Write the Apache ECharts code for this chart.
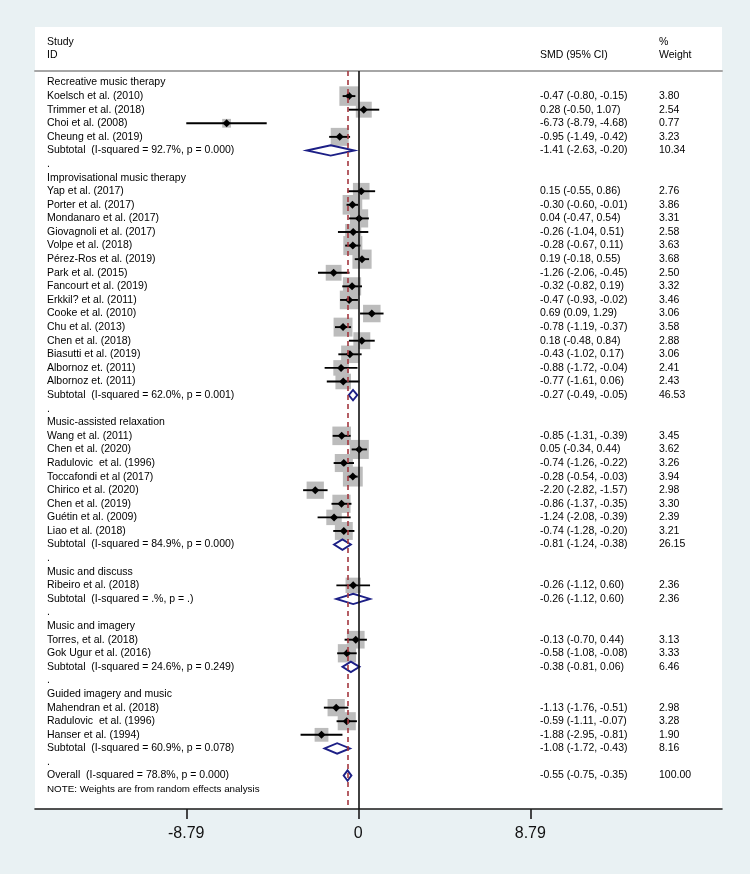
<!DOCTYPE html>
<html>
<head>
<meta charset="utf-8">
<script src="https://cdn.jsdelivr.net/npm/echarts@6/dist/echarts.min.js"></script>
<style>
html,body{margin:0;padding:0;background:#e9f1f3;}
#chart{width:750px;height:874px;}
</style>
</head>
<body>
<div id="chart"></div>
<script>
// ---------- data ----------
const groupNames = [
  "Recreative music therapy",
  "Improvisational music therapy",
  "Music-assisted relaxation",
  "Music and discuss",
  "Music and imagery",
  "Guided imagery and music"
];
const studyNames = [
  ["Koelsch et al. (2010)", "Trimmer et al. (2018)", "Choi et al. (2008)", "Cheung et al. (2019)"],
  ["Yap et al. (2017)", "Porter et al. (2017)", "Mondanaro et al. (2017)", "Giovagnoli et al. (2017)",
   "Volpe et al. (2018)", "Pérez-Ros et al. (2019)", "Park et al. (2015)", "Fancourt et al. (2019)",
   "Erkkil? et al. (2011)", "Cooke et al. (2010)", "Chu et al. (2013)", "Chen et al. (2018)",
   "Biasutti et al. (2019)", "Albornoz et. (2011)", "Albornoz et. (2011)"],
  ["Wang et al. (2011)", "Chen et al. (2020)", "Radulovic  et al. (1996)", "Toccafondi et al (2017)",
   "Chirico et al. (2020)", "Chen et al. (2019)", "Guétin et al. (2009)", "Liao et al. (2018)"],
  ["Ribeiro et al. (2018)"],
  ["Torres, et al. (2018)", "Gok Ugur et al. (2016)"],
  ["Mahendran et al. (2018)", "Radulovic  et al. (1996)", "Hanser et al. (1994)"]
];
const studySMD = [
  [-0.47, 0.28, -6.73, -0.95],
  [0.15, -0.30, 0.04, -0.26, -0.28, 0.19, -1.26, -0.32, -0.47, 0.69, -0.78, 0.18, -0.43, -0.88, -0.77],
  [-0.85, 0.05, -0.74, -0.28, -2.20, -0.86, -1.24, -0.74],
  [-0.26],
  [-0.13, -0.58],
  [-1.13, -0.59, -1.88]
];
const studyLower = [
  [-0.80, -0.50, -8.79, -1.49],
  [-0.55, -0.60, -0.47, -1.04, -0.67, -0.18, -2.06, -0.82, -0.93, 0.09, -1.19, -0.48, -1.02, -1.72, -1.61],
  [-1.31, -0.34, -1.26, -0.54, -2.82, -1.37, -2.08, -1.28],
  [-1.12],
  [-0.70, -1.08],
  [-1.76, -1.11, -2.95]
];
const studyUpper = [
  [-0.15, 1.07, -4.68, -0.42],
  [0.86, -0.01, 0.54, 0.51, 0.11, 0.55, -0.45, 0.19, -0.02, 1.29, -0.37, 0.84, 0.17, -0.04, 0.06],
  [-0.39, 0.44, -0.22, -0.03, -1.57, -0.35, -0.39, -0.20],
  [0.60],
  [0.44, -0.08],
  [-0.51, -0.07, -0.81]
];
const studyWeight = [
  [3.80, 2.54, 0.77, 3.23],
  [2.76, 3.86, 3.31, 2.58, 3.63, 3.68, 2.50, 3.32, 3.46, 3.06, 3.58, 2.88, 3.06, 2.41, 2.43],
  [3.45, 3.62, 3.26, 3.94, 2.98, 3.30, 2.39, 3.21],
  [2.36],
  [3.13, 3.33],
  [2.98, 3.28, 1.90]
];
const subtotalLabels = [
  "Subtotal  (I-squared = 92.7%, p = 0.000)",
  "Subtotal  (I-squared = 62.0%, p = 0.001)",
  "Subtotal  (I-squared = 84.9%, p = 0.000)",
  "Subtotal  (I-squared = .%, p = .)",
  "Subtotal  (I-squared = 24.6%, p = 0.249)",
  "Subtotal  (I-squared = 60.9%, p = 0.078)"
];
const subtotalSMD = [-1.41, -0.27, -0.81, -0.26, -0.38, -1.08];
const subtotalLower = [-2.63, -0.49, -1.24, -1.12, -0.81, -1.72];
const subtotalUpper = [-0.20, -0.05, -0.38, 0.60, 0.06, -0.43];
const subtotalWeight = [10.34, 46.53, 26.15, 2.36, 6.46, 8.16];
const overallLabel = "Overall  (I-squared = 78.8%, p = 0.000)";
const overallSMD = -0.55, overallLower = -0.75, overallUpper = -0.35, overallWeight = 100.00;
const noteText = "NOTE: Weights are from random effects analysis";
const headerLeft = ["Study", "ID"];
const headerMid = "SMD (95% CI)";
const headerRight = ["%", "Weight"];
const tickValues = [-8.79, 0, 8.79];
const tickLabels = ["-8.79", "0", "8.79"];

// ---------- build rows ----------
const studyRows = [];   // [est, row, lo, hi, w]
const diamondRows = []; // [est, row, lo, hi]
const textRows = [];    // [row, label, smdText, weightText]
const fmtCI = (e, l, u) => e.toFixed(2) + " (" + l.toFixed(2) + ", " + u.toFixed(2) + ")";
textRows.push([-3, headerLeft[0], "", headerRight[0]]);
textRows.push([-2, headerLeft[1], headerMid, headerRight[1]]);
let r = 0;
groupNames.forEach((g, gi) => {
  textRows.push([r, g, "", ""]); r++;
  studyNames[gi].forEach((s, si) => {
    const e = studySMD[gi][si], l = studyLower[gi][si], u = studyUpper[gi][si], w = studyWeight[gi][si];
    studyRows.push([e, r, l, u, w]);
    textRows.push([r, s, fmtCI(e, l, u), w.toFixed(2)]);
    r++;
  });
  diamondRows.push([subtotalSMD[gi], r, subtotalLower[gi], subtotalUpper[gi]]);
  textRows.push([r, subtotalLabels[gi], fmtCI(subtotalSMD[gi], subtotalLower[gi], subtotalUpper[gi]), subtotalWeight[gi].toFixed(2)]);
  r++;
  textRows.push([r, ".", "", ""]); r++;
});
diamondRows.push([overallSMD, r, overallLower, overallUpper]);
textRows.push([r, overallLabel, fmtCI(overallSMD, overallLower, overallUpper), overallWeight.toFixed(2)]);
r++;
textRows.push([r, noteText, "", "", "note"]);

// ---------- layout ----------
const GRID_L = 35, GRID_R = 722, GRID_T = 71, GRID_B = 809;
const ZERO_PX = 358.3, PX_PER_UNIT = 19.57;
const ROW0_PX = 82.5, ROW_PX = 13.59;
const xMin = (GRID_L - ZERO_PX) / PX_PER_UNIT, xMax = (GRID_R - ZERO_PX) / PX_PER_UNIT;
const yMin = (GRID_T - ROW0_PX) / ROW_PX, yMax = (GRID_B - ROW0_PX) / ROW_PX;
const FONT = '"Liberation Sans", Arial, sans-serif';
const COL_LABEL = 47, COL_SMD = 540, COL_W = 659;

const chart = echarts.init(document.getElementById('chart'), null, {renderer: 'canvas'});
chart.setOption({
  backgroundColor: '#e9f1f3',
  animation: false,
  graphic: [{
    type: 'rect', z: -10, silent: true,
    shape: {x: GRID_L, y: 27, width: GRID_R - GRID_L, height: GRID_B - 27},
    style: {fill: '#ffffff'}
  }],
  grid: {left: GRID_L, right: 750 - GRID_R, top: GRID_T, bottom: 874 - GRID_B, containLabel: false},
  xAxis: [{
    type: 'value', min: xMin, max: xMax, position: 'bottom',
    splitLine: {show: false},
    axisLine: {onZero: false, lineStyle: {color: '#1a1a1a', width: 1.6}},
    axisTick: {customValues: tickValues, length: 10, lineStyle: {color: '#1a1a1a', width: 1.6}},
    axisLabel: {customValues: tickValues, margin: 17, fontSize: 16, color: '#111', fontFamily: FONT,
      formatter: v => tickLabels[tickValues.indexOf(v)] !== undefined ? tickLabels[tickValues.indexOf(v)] : String(v)}
  }, {
    type: 'value', min: xMin, max: xMax, position: 'top',
    splitLine: {show: false},
    axisLine: {onZero: false, lineStyle: {color: '#a6a6a6', width: 2}},
    axisTick: {show: false}, axisLabel: {show: false}
  }],
  yAxis: {type: 'value', min: yMin, max: yMax, inverse: true, show: false},
  series: [
    { // reference lines
      type: 'line', data: [], z: 1, silent: true,
      markLine: {
        symbol: 'none', silent: true, label: {show: false},
        data: [
          {xAxis: 0, lineStyle: {color: '#111', width: 1.6, type: 'solid'}},
          {xAxis: overallSMD, lineStyle: {color: '#a4373f', width: 1.6, type: [5, 4]}}
        ]
      }
    },
    { // studies
      type: 'custom', z: 3,
      data: studyRows,
      encode: {x: [0, 2, 3], y: 1},
      renderItem: (params, api) => {
        const e = api.value(0), row = api.value(1), lo = api.value(2), hi = api.value(3), w = api.value(4);
        const c = api.coord([e, row]);
        const pl = api.coord([lo, row]), ph = api.coord([hi, row]);
        const s = 10 * Math.sqrt(w);
        return {type: 'group', children: [
          {type: 'rect', shape: {x: c[0] - s / 2, y: c[1] - s / 2, width: s, height: s}, style: {fill: '#bcbcbc'}},
          {type: 'line', shape: {x1: pl[0], y1: c[1], x2: ph[0], y2: c[1]}, style: {stroke: '#000', lineWidth: 1.9}},
          {type: 'polygon', shape: {points: [[c[0] - 4, c[1]], [c[0], c[1] - 4], [c[0] + 4, c[1]], [c[0], c[1] + 4]]}, style: {fill: '#000'}}
        ]};
      }
    },
    { // diamonds
      type: 'custom', z: 4,
      data: diamondRows,
      encode: {x: [0, 2, 3], y: 1},
      renderItem: (params, api) => {
        const e = api.value(0), row = api.value(1), lo = api.value(2), hi = api.value(3);
        const c = api.coord([e, row]);
        const pl = api.coord([lo, row]), ph = api.coord([hi, row]);
        const h = 5.2;
        return {type: 'polygon', shape: {points: [[pl[0], c[1]], [c[0], c[1] - h], [ph[0], c[1]], [c[0], c[1] + h]]},
          style: {fill: '#ffffff', stroke: '#1c1f86', lineWidth: 1.9}};
      }
    },
    { // texts
      type: 'custom', z: 5,
      data: textRows.map((t, i) => [0, t[0], i]),
      encode: {x: 0, y: 1},
      renderItem: (params, api) => {
        const t = textRows[api.value(2)];
        const y = api.coord([0, api.value(1)])[1];
        const isNote = t[4] === 'note';
        const base = {fontFamily: FONT, fontSize: isNote ? 9.8 : 10.5, fill: '#000', verticalAlign: 'middle', align: 'left'};
        const kids = [{type: 'text', x: COL_LABEL, y: y, style: Object.assign({text: t[1]}, base)}];
        if (t[2]) kids.push({type: 'text', x: COL_SMD, y: y, style: Object.assign({text: t[2]}, base)});
        if (t[3]) kids.push({type: 'text', x: COL_W, y: y, style: Object.assign({text: t[3]}, base)});
        return {type: 'group', children: kids};
      }
    }
  ]
});
</script>
</body>
</html>
